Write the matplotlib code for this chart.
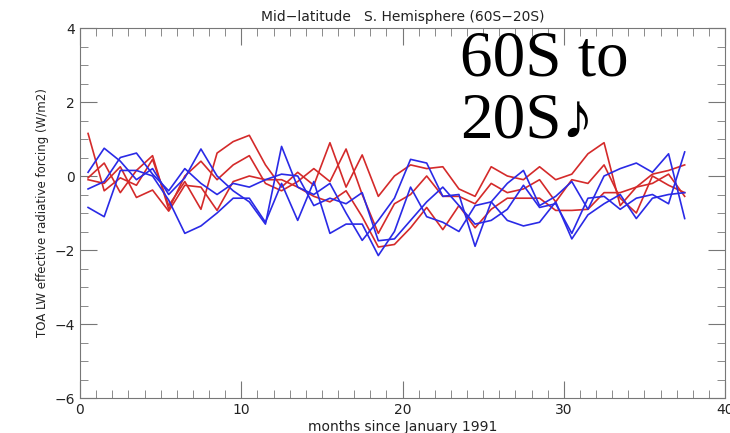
import numpy as np
import matplotlib
matplotlib.use("Agg")
import matplotlib.pyplot as plt
from matplotlib.ticker import MultipleLocator

months = np.arange(38) + 0.5

red_a = [1.15, -0.4, -0.05, -0.25, 0.45, -0.8, -0.15, -0.9, 0.62, 0.93, 1.1, 0.3, -0.3, 0.1, -0.25,
         0.9, -0.3, 0.57, -0.55, 0.0, 0.3, 0.2, 0.25, -0.35, -0.55, 0.25, 0.0, -0.1, 0.25, -0.1,
         0.05, 0.6, 0.9, -0.8, -0.3, 0.05, 0.15, 0.3]
red_b = [-0.05, 0.35, -0.45, 0.15, 0.55, -0.9, 0.0, 0.4, -0.1, 0.3, 0.55, -0.2, -0.4, -0.15, 0.2,
         -0.15, 0.73, -0.5, -1.55, -0.75, -0.5, 0.0, -0.55, -0.55, -0.75, -0.2, -0.45, -0.35, -0.1, -0.7,
         -0.1, -0.2, 0.3, -0.6, -1.0, 0.0, -0.25, -0.45]
red_c = [-0.1, -0.2, 0.25, -0.58, -0.38, -0.95, -0.25, -0.3, -0.93, -0.15, 0.0, -0.1, -0.1, -0.3, -0.55,
         -0.7, -0.4, -1.1, -1.92, -1.85, -1.4, -0.85, -1.45, -0.8, -1.4, -0.9, -0.6, -0.6, -0.6, -0.93,
         -0.93, -0.9, -0.45, -0.45, -0.3, -0.2, 0.05, -0.55]

blue_a = [0.1, 0.75, 0.4, -0.1, 0.2, -0.5, -0.05, 0.73, 0.0, -0.4, -0.7, -1.3, 0.8, -0.3, -0.5,
          -0.2, -1.0, -1.74, -1.2, -0.6, 0.45, 0.35, -0.55, -0.5, -1.9, -0.7, -0.2, 0.15, -0.8, -0.55,
          -0.15, -0.9, 0.0, 0.2, 0.35, 0.1, 0.6, -1.15]
blue_b = [-0.35, -0.15, 0.5, 0.62, 0.05, -0.4, 0.2, -0.2, -0.5, -0.2, -0.3, -0.1, 0.05, 0.0, -0.8,
          -0.6, -0.75, -0.45, -1.75, -1.7, -1.2, -0.7, -0.3, -0.8, -1.3, -1.2, -0.9, -0.25, -0.85, -0.75,
          -1.55, -0.6, -0.55, -0.9, -0.6, -0.5, -0.75, 0.65]
blue_c = [-0.85, -1.1, 0.15, 0.15, 0.0, -0.65, -1.55, -1.35, -1.0, -0.6, -0.6, -1.25, -0.2, -1.2, -0.15,
          -1.55, -1.3, -1.3, -2.15, -1.5, -0.3, -1.1, -1.25, -1.5, -0.8, -0.7, -1.2, -1.35, -1.25, -0.7,
          -1.7, -1.05, -0.75, -0.5, -1.15, -0.6, -0.5, -0.45]

fig = plt.figure(figsize=(7.3, 4.33), dpi=100)
ax = fig.add_axes([80 / 730, 1 - 398 / 433, 645 / 730, 370 / 433])

for s in [red_a, red_b, red_c]:
    ax.plot(months, s, color='#d42a2a', lw=1.2)
for s in [blue_a, blue_b, blue_c]:
    ax.plot(months, s, color='#2a2ae6', lw=1.2)

ax.set_xlim(0, 40)
ax.set_ylim(-6, 4)
ax.xaxis.set_major_locator(MultipleLocator(10))
ax.xaxis.set_minor_locator(MultipleLocator(1))
ax.yaxis.set_major_locator(MultipleLocator(2))
ax.yaxis.set_minor_locator(MultipleLocator(0.5))
ax.tick_params(which='both', direction='in', top=True, right=True, color='#777777',
               labelcolor='#222222', labelsize=10)
ax.tick_params(which='major', length=12)
ax.tick_params(which='minor', length=6)
for sp in ax.spines.values():
    sp.set_color('#777777')

ax.set_title('Mid\u2212latitude   S. Hemisphere (60S\u221220S)', fontsize=10, color='#222222', pad=5)
ax.set_xlabel('months since January 1991', fontsize=10, color='#222222', labelpad=2)
ax.set_ylabel('TOA LW effective radiative forcing (W/m2)', fontsize=8.5, color='#222222')

# overlay note, two lines
serif = ['Liberation Serif', 'DejaVu Sans']
fig.text(460 / 730, 1 - 76 / 433, '60S to', fontsize=47, va='baseline', ha='left', family=serif)
fig.text(460 / 730, 1 - 137 / 433, '20S\u266a', fontsize=47, va='baseline', ha='left', family=serif)

fig.savefig('out.png', dpi=100)
